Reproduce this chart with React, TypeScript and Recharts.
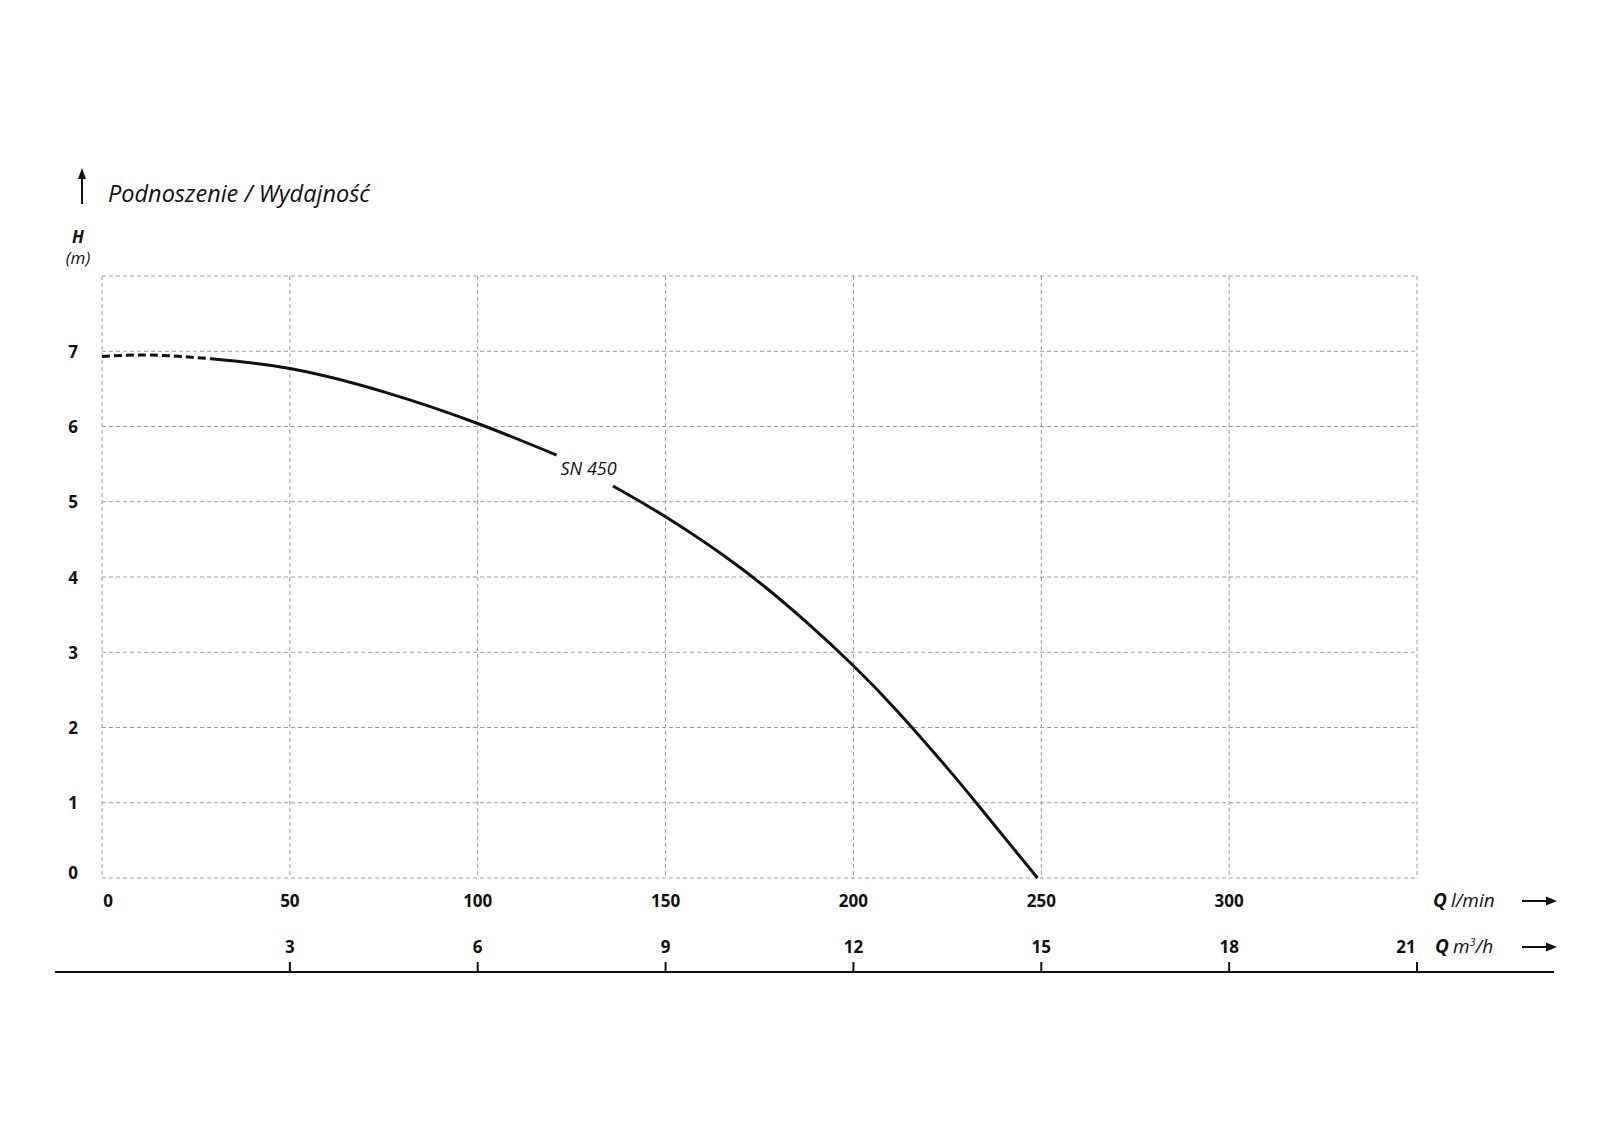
import { CartesianGrid, ComposedChart, Line, ReferenceDot, XAxis, YAxis } from "recharts";

// pump curve SN 450 (Q in l/min, H in m)
const flowLpm = [0, 13, 29, 50, 75, 100, 121, 136, 150, 170, 187.5, 200, 212, 225, 233, 249];
const headM = [6.93, 6.95, 6.9, 6.77, 6.46, 6.04, 5.62, 5.21, 4.8, 4.12, 3.4, 2.82, 2.2, 1.46, 0.98, 0];

const lpmTicks = [0, 50, 100, 150, 200, 250, 300, 350];
const m3hTicks = [3, 6, 9, 12, 15, 18, 21];
const headTicks = [0, 1, 2, 3, 4, 5, 6, 7, 8];

const dashedUntil = 29;
const gapFrom = 121;
const gapTo = 136;

const points = flowLpm.map((q, i) => ({ q, h: headM[i] }));
const dashedPart = points.filter((p) => p.q <= dashedUntil);
const solidA = points.filter((p) => p.q >= dashedUntil && p.q <= gapFrom);
const solidB = points.filter((p) => p.q >= gapTo);

// m3/h -> l/min, so the second scale sits on the same x scale
const m3hAt = (lpm: number) => m3hTicks.find((m) => Math.round((m * 1000) / 60) === lpm);

const FONT = "'Open Sans', sans-serif";

function FlowTick({ x, y, payload }: any) {
  const v = payload.value;
  const m3 = m3hAt(v);
  const dx = v === 0 ? 6 : 0;
  return (
    <g>
      {v !== 350 && (
        <text x={x + dx} y={y + 22} textAnchor="middle" dominantBaseline="central" fontFamily={FONT} fontWeight={700} fontSize={17} fill="#111">
          {v}
        </text>
      )}
      {m3 !== undefined && (
        <g>
          <line x1={x} x2={x} y1={y + 84} y2={y + 94} stroke="#111" strokeWidth={2} />
          <text x={x + (m3 === 21 ? -11 : 0)} y={y + 68} textAnchor="middle" dominantBaseline="central" fontFamily={FONT} fontWeight={700} fontSize={17} fill="#111">
            {m3}
          </text>
        </g>
      )}
    </g>
  );
}

function HeadTick({ x, y, payload }: any) {
  if (payload.value === 8) return <g />;
  const dy = payload.value === 0 ? -6 : 0;
  return (
    <text x={x - 29} y={y + dy} textAnchor="middle" dominantBaseline="central" fontFamily={FONT} fontWeight={700} fontSize={17} fill="#111">
      {payload.value}
    </text>
  );
}

export default function App() {
  return (
    <div style={{ position: "absolute", left: 0, top: 0, width: 1600, height: 1143, background: "#fff" }}>
      <ComposedChart width={1600} height={1143} margin={{ top: 276, right: 183, bottom: 165, left: 62 }}>
        <CartesianGrid stroke="#9a9a9a" strokeDasharray="4 3" strokeWidth={1} />
        <XAxis
          dataKey="q"
          type="number"
          domain={[0, 350]}
          ticks={lpmTicks}
          height={100}
          axisLine={false}
          tickLine={false}
          tickSize={0}
          tickMargin={0}
          tick={<FlowTick />}
          interval={0}
        />
        <YAxis
          type="number"
          domain={[0, 8]}
          ticks={headTicks}
          width={40}
          axisLine={false}
          tickLine={false}
          tickSize={0}
          tickMargin={0}
          tick={<HeadTick />}
          interval={0}
        />
        <Line data={dashedPart} dataKey="h" type="natural" stroke="#111" strokeWidth={3} strokeDasharray="8 4" dot={false} isAnimationActive={false} />
        <Line data={solidA} dataKey="h" type="natural" stroke="#111" strokeWidth={3} dot={false} isAnimationActive={false} />
        <Line data={solidB} dataKey="h" type="natural" stroke="#111" strokeWidth={3} dot={false} isAnimationActive={false} />
        <ReferenceDot
          x={129.5}
          y={5.45}
          r={0}
          ifOverflow="visible"
          shape={(p: any) => (
            <text x={p.cx} y={p.cy} textAnchor="middle" dominantBaseline="central" fontFamily={FONT} fontStyle="italic" fontSize={18} fill="#111">
              SN 450
            </text>
          )}
        />
      </ComposedChart>

      <svg width={1600} height={1143} style={{ position: "absolute", left: 0, top: 0, pointerEvents: "none" }}>
        <line x1={82} x2={82} y1={204} y2={176} stroke="#111" strokeWidth={2} />
        <polygon points="82,168 78,179 86,179" fill="#111" />
        <text x={108} y={202} fontFamily={FONT} fontStyle="italic" fontSize={23.5} fill="#111">
          Podnoszenie / Wydajność
        </text>
        <text x={78} y={243} textAnchor="middle" fontFamily={FONT} fontStyle="italic" fontWeight={700} fontSize={17} fill="#111">
          H
        </text>
        <text x={78} y={264} textAnchor="middle" fontFamily={FONT} fontStyle="italic" fontSize={17} fill="#111">
          (m)
        </text>

        <text x={1433} y={907} fontFamily={FONT} fontSize={19} fill="#111">
          <tspan fontWeight={700} fontStyle="italic">Q</tspan>
          <tspan fontStyle="italic" dx={4}>l/min</tspan>
        </text>
        <line x1={1522} x2={1550} y1={901} y2={901} stroke="#111" strokeWidth={2} />
        <polygon points="1557,901 1546,896.5 1546,905.5" fill="#111" />

        <text x={1435} y={953} fontFamily={FONT} fontSize={19} fill="#111">
          <tspan fontWeight={700} fontStyle="italic">Q</tspan>
          <tspan fontStyle="italic" dx={4}>m</tspan>
          <tspan fontStyle="italic" fontSize={11} dy={-7}>3</tspan>
          <tspan fontStyle="italic" dy={7}>/h</tspan>
        </text>
        <line x1={1522} x2={1550} y1={947} y2={947} stroke="#111" strokeWidth={2} />
        <polygon points="1557,947 1546,942.5 1546,951.5" fill="#111" />

        <line x1={55} x2={1554} y1={972} y2={972} stroke="#111" strokeWidth={2} />
      </svg>
    </div>
  );
}
